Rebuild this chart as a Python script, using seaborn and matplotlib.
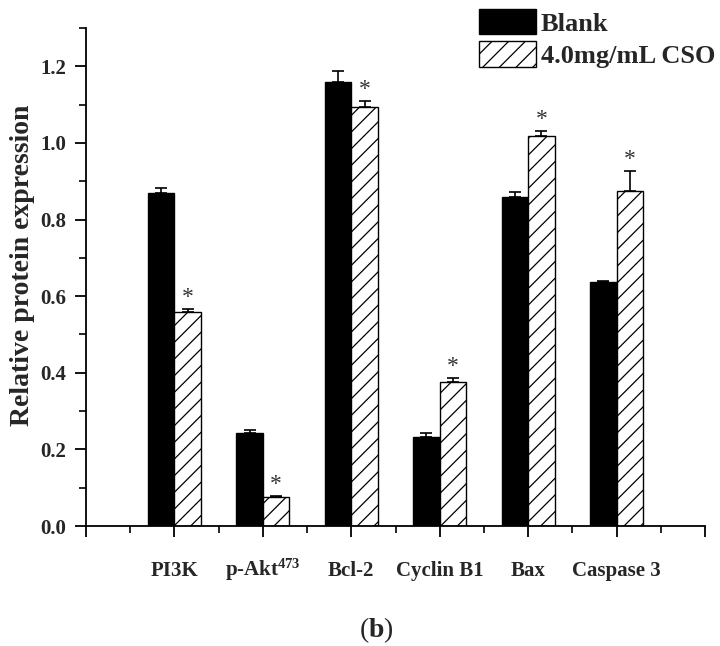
import numpy as np
import pandas as pd
import matplotlib
matplotlib.use("Agg")
import matplotlib.pyplot as plt
import seaborn as sns
from matplotlib.ticker import MultipleLocator, FixedLocator
from matplotlib.patches import Patch

# ---- data ----
categories = ["PI3K", "p-Akt$^{473}$", "Bcl-2", "Cyclin B1", "Bax", "Caspase 3"]
groups = ["Blank", "4.0mg/mL CSO"]
blank = [0.870, 0.242, 1.160, 0.232, 0.860, 0.636]
blank_err = [0.012, 0.008, 0.027, 0.010, 0.011, 0.003]
cso = [0.558, 0.076, 1.094, 0.376, 1.019, 0.875]
cso_err = [0.009, 0.002, 0.015, 0.010, 0.012, 0.052]
significant = [True, True, True, True, True, True]
yticks = [0.0, 0.2, 0.4, 0.6, 0.8, 1.0, 1.2]

sns.set_theme(style="ticks")
plt.rcParams['font.family'] = ['Liberation Serif', 'DejaVu Serif']
plt.rcParams.update({
    'mathtext.fontset': 'custom',
    'mathtext.rm': 'Liberation Serif:bold',
    'mathtext.it': 'Liberation Serif:bold',
    'mathtext.bf': 'Liberation Serif:bold',
    'hatch.linewidth': 0.9,
    'hatch.color': 'black',
})

df = pd.DataFrame({
    "protein": categories * 2,
    "group": [groups[0]] * len(categories) + [groups[1]] * len(categories),
    "value": blank + cso,
})

fig = plt.figure(figsize=(7.2, 6.46), dpi=100)
ax = fig.add_axes([86 / 720, 120 / 646, (705 - 86) / 720, (526 - 28) / 646])

sns.barplot(data=df, x="protein", y="value", hue="group", hue_order=groups,
            order=categories, palette=["black", "white"], width=0.6,
            errorbar=None, ax=ax, legend=False, edgecolor="black",
            linewidth=1.0, saturation=1)

for p in ax.containers[1]:
    p.set_hatch('//')

for cont, err in zip(ax.containers, [blank_err, cso_err]):
    xs = [p.get_x() + p.get_width() / 2 for p in cont]
    hs = [p.get_height() for p in cont]
    ax.errorbar(xs, hs, yerr=[np.zeros(len(err)), err], fmt='none',
                ecolor='black', elinewidth=1.2, capsize=4, capthick=1.2, zorder=1)

# significance stars above treated bars
for p, e, s in zip(ax.containers[1], cso_err, significant):
    if s:
        x = p.get_x() + p.get_width() / 2
        ax.text(x, p.get_height() + e + 0.016, "*", ha='center', va='baseline',
                fontsize=17, color='#333333')

ax.set_xlim(-1, 6)
ax.set_ylim(0, 1.3)
ax.xaxis.set_major_locator(FixedLocator(list(range(-1, 7))))
ax.set_xticklabels([""] + categories + [""])
ax.xaxis.set_minor_locator(MultipleLocator(0.5))
ax.yaxis.set_major_locator(FixedLocator(yticks))
ax.yaxis.set_minor_locator(MultipleLocator(0.1))
ax.set_yticklabels([f"{v:.1f}" for v in yticks])

ax.tick_params(axis='both', which='major', direction='out', length=8, width=1.3,
               labelsize=15, color='black')
ax.tick_params(axis='x', which='major', pad=28)
ax.tick_params(axis='y', which='major', pad=6)
ax.tick_params(axis='y', which='minor', direction='out', length=5, width=1.2, color='black')
ax.tick_params(axis='x', which='minor', direction='out', length=5, width=1.2, color='black')
for lab in ax.get_xticklabels():
    lab.set_fontweight('bold')
    lab.set_verticalalignment('baseline')
for lab in ax.get_yticklabels():
    lab.set_fontweight('bold')

for side in ['top', 'right']:
    ax.spines[side].set_visible(False)
for side in ['left', 'bottom']:
    ax.spines[side].set_linewidth(1.3)
    ax.spines[side].set_color('black')

ax.set_xlabel("")
ax.set_ylabel("Relative protein expression", fontsize=20, fontweight='bold')
ax.yaxis.set_label_coords(-0.083, 0.524)

handles = [Patch(facecolor='black', edgecolor='black'),
           Patch(facecolor='white', edgecolor='black', hatch='//')]
fig.legend(handles, groups, loc='upper left', bbox_to_anchor=(479 / 720, 1 - 9 / 646),
           frameon=False, prop={'family': 'Liberation Serif', 'weight': 'bold', 'size': 19},
           handlelength=2.15, handleheight=1.1, handletextpad=0.2, labelspacing=0.22,
           borderpad=0, borderaxespad=0)

fig.text(376 / 720, 1 - 630 / 646, r"($\mathbf{b}$)", ha='center', va='center', fontsize=20)

fig.savefig("out.png", dpi=100)
